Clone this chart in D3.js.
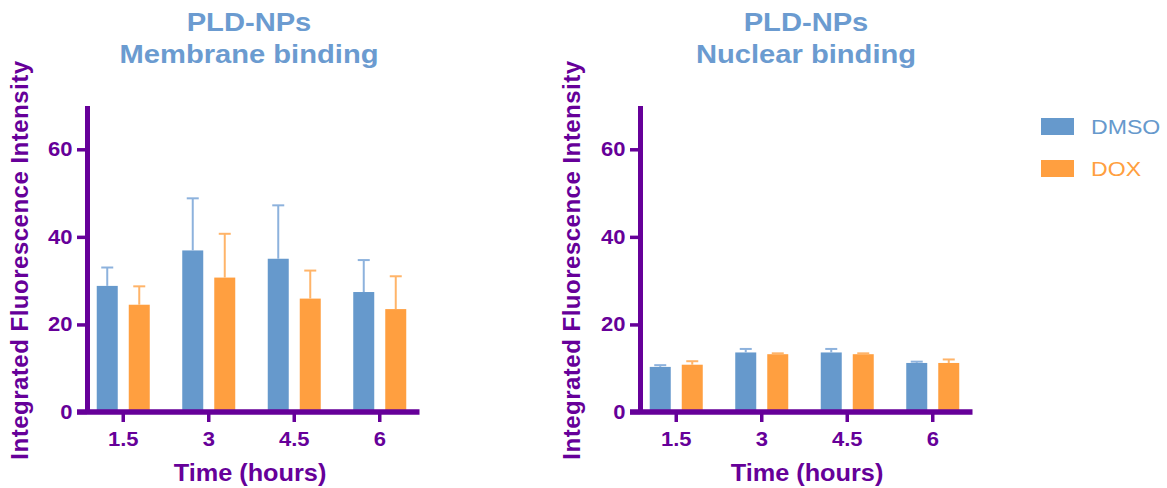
<!DOCTYPE html>
<html>
<head>
<meta charset="utf-8">
<script src="https://cdn.jsdelivr.net/npm/d3@7"></script>
<style>
  html, body { margin: 0; padding: 0; background: #fff; }
  svg { display: block; font-family: "Liberation Sans", Arial, sans-serif; }
</style>
</head>
<body>
<svg id="chart" width="1167" height="488"></svg>
<script>
// ---------------- data ----------------
const categories = ["1.5", "3", "4.5", "6"];
const seriesNames = ["DMSO", "DOX"];
const yTicks = [0, 20, 40, 60];

const membraneDMSO    = [28.8, 36.9, 35.0, 27.4];
const membraneDMSOErr = [4.2, 11.9, 12.2, 7.3];
const membraneDOX     = [24.5, 30.7, 25.9, 23.5];
const membraneDOXErr  = [4.2, 10.0, 6.4, 7.5];

const nuclearDMSO     = [10.3, 13.6, 13.6, 11.2];
const nuclearDMSOErr  = [0.4, 0.8, 0.8, 0.3];
const nuclearDOX      = [10.8, 13.2, 13.2, 11.2];
const nuclearDOXErr   = [0.8, 0.2, 0.2, 0.8];

const panelTitles = [["PLD-NPs", "Membrane binding"], ["PLD-NPs", "Nuclear binding"]];
const xTitle = "Time (hours)";
const yTitle = "Integrated Fluorescence Intensity";

// ---------------- style ----------------
const purple = "#660099";
const colors = { DMSO: "#6699CC", DOX: "#FF9F40" };
const errColors = { DMSO: "#8DB2DD", DOX: "#FFB469" };
const titleColor = "#6B9BD0";
const SX = 1.1; // horizontal text stretch

const svg = d3.select("#chart");

const y = d3.scaleLinear().domain([0, 70]).range([412, 105.5]);

function buildRows(dmso, dmsoErr, dox, doxErr) {
  return categories.map((c, i) => ({
    cat: c,
    vals: [
      { s: "DMSO", v: dmso[i], e: dmsoErr[i] },
      { s: "DOX", v: dox[i], e: doxErr[i] }
    ]
  }));
}

const panels = [
  { axisX: 87, titleX: 249, yTitleX: 28, rows: buildRows(membraneDMSO, membraneDMSOErr, membraneDOX, membraneDOXErr) },
  { axisX: 640, titleX: 806, yTitleX: 580, rows: buildRows(nuclearDMSO, nuclearDMSOErr, nuclearDOX, nuclearDOXErr) }
];

function stretchedText(g, x, yPos, txt) {
  return g.append("text")
    .attr("transform", `translate(${x},${yPos}) scale(${SX},1)`)
    .text(txt);
}

panels.forEach((p, pi) => {
  const g = svg.append("g");
  const x = d3.scaleBand().domain(categories)
    .range([p.axisX - 6.5, p.axisX + 335.5]).paddingInner(0).paddingOuter(0);
  const xi = d3.scaleBand().domain(seriesNames).range([-26.5, 26.5]).paddingInner(0.344);

  // bars
  const grp = g.selectAll("g.grp").data(p.rows).join("g")
    .attr("transform", d => `translate(${x(d.cat) + x.bandwidth() / 2},0)`);
  grp.selectAll("rect").data(d => d.vals).join("rect")
    .attr("x", d => xi(d.s))
    .attr("width", xi.bandwidth())
    .attr("y", d => y(d.v))
    .attr("height", d => y(0) - y(d.v))
    .attr("fill", d => colors[d.s]);

  // error bars (upper)
  const eb = grp.selectAll("g.err").data(d => d.vals).join("g").attr("class", "err");
  eb.append("line")
    .attr("x1", d => xi(d.s) + xi.bandwidth() / 2)
    .attr("x2", d => xi(d.s) + xi.bandwidth() / 2)
    .attr("y1", d => y(d.v))
    .attr("y2", d => y(d.v + d.e))
    .attr("stroke", d => errColors[d.s]).attr("stroke-width", 2);
  eb.append("line")
    .attr("x1", d => xi(d.s) + xi.bandwidth() / 2 - 6)
    .attr("x2", d => xi(d.s) + xi.bandwidth() / 2 + 6)
    .attr("y1", d => y(d.v + d.e))
    .attr("y2", d => y(d.v + d.e))
    .attr("stroke", d => errColors[d.s]).attr("stroke-width", 2);

  // y axis
  const ya = g.append("g").attr("transform", `translate(${p.axisX},0)`)
    .call(d3.axisLeft(y).tickValues(yTicks).tickSize(10).tickSizeOuter(0).tickPadding(4));
  ya.select(".domain").attr("stroke", purple).attr("stroke-width", 5);
  ya.selectAll(".tick line").attr("stroke", purple).attr("stroke-width", 3.5);
  ya.selectAll(".tick text")
    .attr("fill", purple).attr("font-size", 20).attr("font-weight", "bold")
    .attr("font-family", "Liberation Sans, Arial, sans-serif")
    .attr("x", -14.5 / SX)
    .attr("transform", `scale(${SX},1)`);

  // x axis
  const xa = g.append("g").attr("transform", `translate(0,${y(0)})`)
    .call(d3.axisBottom(x).tickSize(10).tickSizeOuter(0).tickPadding(10));
  xa.select(".domain").remove();
  xa.append("line")
    .attr("x1", p.axisX - 10).attr("x2", x.range()[1] - 3)
    .attr("y1", 0).attr("y2", 0)
    .attr("stroke", purple).attr("stroke-width", 5.5);
  xa.selectAll(".tick line").attr("stroke", purple).attr("stroke-width", 3.5);
  xa.selectAll(".tick text")
    .attr("fill", purple).attr("font-size", 20).attr("font-weight", "bold")
    .attr("font-family", "Liberation Sans, Arial, sans-serif")
    .attr("transform", `scale(${SX},1)`);

  // titles
  const t = g.append("g").attr("fill", titleColor).attr("font-size", 26.5)
    .attr("font-weight", "bold").attr("text-anchor", "middle");
  stretchedText(t, p.titleX, 31, panelTitles[pi][0]);
  stretchedText(t, p.titleX, 63, panelTitles[pi][1]);

  // axis titles
  const xt = g.append("g").attr("fill", purple).attr("font-size", 23)
    .attr("font-weight", "bold").attr("text-anchor", "middle");
  stretchedText(xt, p.titleX + 1, 481, xTitle);

  g.append("text")
    .attr("transform", `translate(${p.yTitleX},260) rotate(-90)`)
    .attr("fill", purple).attr("font-size", 24).attr("font-weight", "bold")
    .attr("letter-spacing", 0.5)
    .attr("text-anchor", "middle")
    .text(yTitle);
});

// legend
const leg = svg.append("g");
const legY = d3.scaleBand().domain(seriesNames).range([118, 202]).paddingInner(0);
seriesNames.forEach(s => {
  leg.append("rect").attr("x", 1041).attr("y", legY(s)).attr("width", 33).attr("height", 17)
    .attr("fill", colors[s]);
  leg.append("text")
    .attr("transform", `translate(1091,${legY(s) + 16}) scale(${SX},1)`)
    .attr("fill", colors[s]).attr("font-size", 21)
    .text(s);
});
</script>
</body>
</html>
